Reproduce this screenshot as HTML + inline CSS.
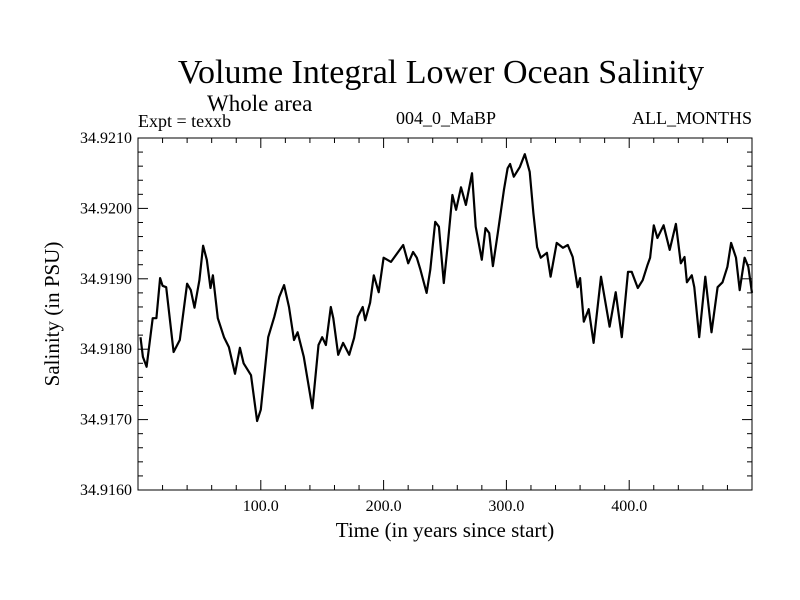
<!DOCTYPE html>
<html><head><meta charset="utf-8"><style>
html,body{margin:0;padding:0;background:#fff;}
svg{display:block;font-family:"Liberation Serif",serif;}
</style></head><body>
<svg id="chart" width="800" height="600">
<text x="441" y="83" font-size="34" text-anchor="middle">Volume Integral Lower Ocean Salinity</text>
<text x="207" y="111" font-size="23">Whole area</text>
<text x="138" y="127" font-size="18">Expt = texxb</text>
<text x="446" y="124" font-size="18" text-anchor="middle">004_0_MaBP</text>
<text x="752" y="124" font-size="18" text-anchor="end">ALL_MONTHS</text>
<text x="445" y="537" font-size="21" text-anchor="middle">Time (in years since start)</text>
<text transform="translate(59,314) rotate(-90)" font-size="21" text-anchor="middle">Salinity (in PSU)</text>
<g id="axes"></g>
<rect x="138" y="138" width="614" height="352" fill="none" stroke="#000" stroke-width="1"/>
</svg>
<script>
const years=[2,4,7,12,15,18,20,23,29,34,40,43,46,50,53,56,59,61,65,70,74,79,83,86,92,97,100,106,111,115,119,123,127,130,135,142,147,150,153,157,159,163,167,172,176,179,183,185,189,192,196,200,206,216,220,224,227,230,235,238,242,245,249,252,256,259,263,267,272,275,280,283,286,289,293,298,301,303,306,311,315,319,322,325,328,333,336,341,346,350,354,358,360,363,367,371,377,384,389,394,399,402,407,411,415,417,420,423,428,433,438,442,445,447,451,453,457,462,467,472,476,480,483,487,490,494,497,500];
const salinity=[34.91817,34.91789,34.91775,34.91844,34.91844,34.91901,34.91890,34.91888,34.91796,34.91813,34.91893,34.91884,34.91859,34.91898,34.91947,34.91927,34.91887,34.91905,34.91844,34.91817,34.91803,34.91765,34.91802,34.91780,34.91763,34.91698,34.91714,34.91817,34.91846,34.91874,34.91891,34.91860,34.91813,34.91824,34.91789,34.91716,34.91806,34.91817,34.91806,34.91860,34.91844,34.91792,34.91809,34.91792,34.91816,34.91846,34.91860,34.91841,34.91866,34.91905,34.91881,34.91930,34.91924,34.91948,34.91922,34.91938,34.91930,34.91913,34.91880,34.91913,34.91981,34.91974,34.91894,34.91945,34.92019,34.91998,34.92030,34.92005,34.92050,34.91974,34.91927,34.91972,34.91965,34.91918,34.91965,34.92026,34.92057,34.92063,34.92045,34.92059,34.92077,34.92052,34.91993,34.91945,34.91930,34.91937,34.91903,34.91951,34.91944,34.91948,34.91931,34.91888,34.91901,34.91839,34.91857,34.91809,34.91903,34.91832,34.91881,34.91817,34.91910,34.91910,34.91887,34.91898,34.91920,34.91930,34.91976,34.91958,34.91976,34.91941,34.91978,34.91922,34.91931,34.91895,34.91905,34.91888,34.91817,34.91903,34.91824,34.91888,34.91895,34.91917,34.91951,34.91930,34.91884,34.91930,34.91917,34.91880];
const xTickLabels=["100.0","200.0","300.0","400.0"];
const xTickValues=[100,200,300,400];
const yTickLabels=["34.9160","34.9170","34.9180","34.9190","34.9200","34.9210"];
const yTickValues=[34.916,34.917,34.918,34.919,34.920,34.921];

const X0=138,X1=752,Y0=490,Y1=138,XMIN=0,XMAX=500,YMIN=34.916,YMAX=34.921;
function xs(v){return X0+(v-XMIN)/(XMAX-XMIN)*(X1-X0);}
function ys(v){return Y0-(v-YMIN)/(YMAX-YMIN)*(Y0-Y1);}
const NS="http://www.w3.org/2000/svg";
const g=document.getElementById('axes');
function line(x1,y1,x2,y2,name){const l=document.createElementNS(NS,'line');l.setAttribute('x1',x1);l.setAttribute('y1',y1);l.setAttribute('x2',x2);l.setAttribute('y2',y2);l.setAttribute('stroke','#000');l.setAttribute('stroke-width','1');


g.appendChild(l);}
function text(x,y,s,anchor,name){const t=document.createElementNS(NS,'text');t.setAttribute('x',x);t.setAttribute('y',y);t.setAttribute('font-size','16');t.setAttribute('text-anchor',anchor);t.textContent=s;


g.appendChild(t);}
for(let v=20;v<XMAX;v+=20){const x=xs(v);const major=v%100===0;const L=major?10:5;
line(x,Y0,x,Y0-L,'x-tick');line(x,Y1,x,Y1+L,'x-tick-top');}
xTickValues.forEach((v,i)=>text(xs(v),Y0+21,xTickLabels[i],'middle','x-tick-label'));
for(let k=1;k<25;k++){const v=YMIN+k*0.0002;const y=ys(v);const major=k%5===0;const L=major?10:5;
line(X0,y,X0+L,y,'y-tick');line(X1,y,X1-L,y,'y-tick-right');}
yTickValues.forEach((v,i)=>text(X0-6,ys(v)+5,yTickLabels[i],'end','y-tick-label'));
const p=document.createElementNS(NS,'polyline');
p.setAttribute('points',years.map((yr,i)=>xs(yr).toFixed(1)+','+ys(salinity[i]).toFixed(1)).join(' '));
p.setAttribute('fill','none');p.setAttribute('stroke','#000');p.setAttribute('stroke-width','2.2');p.setAttribute('stroke-linejoin','round');


g.appendChild(p);
</script>
</body></html>
